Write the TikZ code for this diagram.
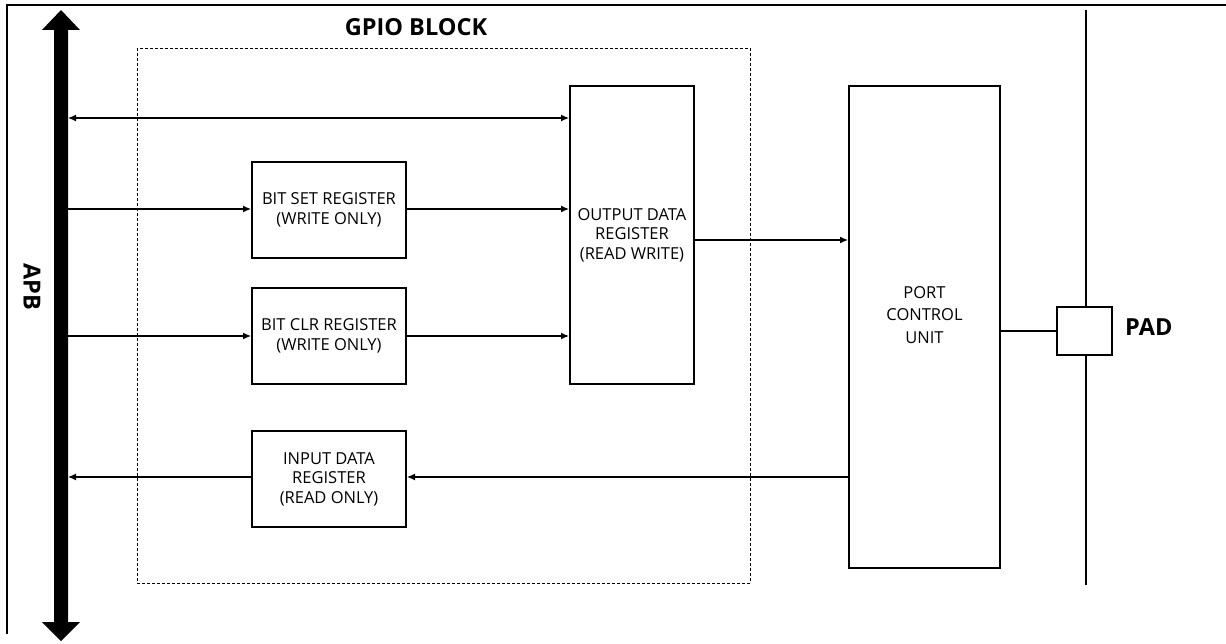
\documentclass[tikz,border=0pt]{standalone}
\usepackage{fontspec}
\setmainfont{Open Sans}
\usetikzlibrary{arrows.meta}
\begin{document}
\begin{tikzpicture}[x=1pt,y=-1pt,
  regbox/.style={draw,line width=2pt,minimum width=154pt,minimum height=96pt,align=center,font=\fontsize{16.5}{19.5}\selectfont,inner sep=0pt},
  tallbox/.style={draw,line width=2pt,align=center,font=\fontsize{16.5}{19.5}\selectfont,inner sep=0pt},
  conn/.style={line width=1.3pt,-{Latex[length=8pt,width=7pt]}},
  plain/.style={line width=1.3pt},
  bold/.style={font=\bfseries\fontsize{23.5}{26}\selectfont}]
\useasboundingbox (0,0) rectangle (1226,644);
% frame (top and left only)
\draw[line width=2pt] (1226,5) -- (7,5) -- (7,634);
% APB bus
\fill (54,30) -- (42,30) -- (61,10) -- (80,30) -- (68,30) -- (68,622) -- (80,622) -- (61,641) -- (42,622) -- (54,622) -- cycle;
\node[rotate=-90,bold] (apb) at (32,287) {APB};
% GPIO block
\draw[densely dashed,line width=0.7pt] (137,48) rectangle (750,583);
\node[bold] (gpio) at (416,27) {GPIO BLOCK};
% registers
\node[regbox] (bset) at (329,210) {BIT SET REGISTER\\(WRITE ONLY)};
\node[regbox] (bclr) at (329,336) {BIT CLR REGISTER\\(WRITE ONLY)};
\node[regbox] (inreg) at (329,479) {INPUT DATA\\REGISTER\\(READ ONLY)};
\node[tallbox,minimum width=124pt,minimum height=298pt] (outreg) at (632,235) {OUTPUT DATA\\REGISTER\\(READ WRITE)};
\node[draw,line width=2pt,minimum width=151pt,minimum height=482pt,inner sep=0pt] (pcu) at (924.5,327) {};
\node[align=center,font=\fontsize{16.5}{22.5}\selectfont,inner sep=0pt] (pcut) at (924.5,315) {PORT\\CONTROL\\UNIT};
% pad
\draw[plain] (1086,10) -- (1086,585);
\node[draw,fill=white,line width=2pt,minimum width=55pt,minimum height=48pt,inner sep=0pt] (pad) at (1084.5,331) {};
\node[bold,anchor=west,inner sep=0pt] (padt) at (1125,327) {PAD};
% bus coordinates
\coordinate (b1) at (68,118);
\coordinate (b2) at (68,209);
\coordinate (b3) at (68,336);
\coordinate (b4) at (68,477);
% connectors
\draw[line width=1.3pt,{Latex[length=8pt,width=7pt]}-{Latex[length=8pt,width=7pt]}] (b1) -- (outreg.west |- b1);
\draw[conn] (b2) -- (bset.west |- b2);
\draw[conn] (bset.east |- b2) -- (outreg.west |- b2);
\draw[conn] (b3) -- (bclr.west |- b3);
\draw[conn] (bclr.east |- b3) -- (outreg.west |- b3);
\draw[conn] (outreg.east |- 0,240) -- (pcu.west |- 0,240);
\draw[conn] (pcu.west |- b4) -- (inreg.east |- b4);
\draw[conn] (inreg.west |- b4) -- (b4);
\draw[plain] (pcu.east |- pad) -- (pad.west);
\end{tikzpicture}
\end{document}
